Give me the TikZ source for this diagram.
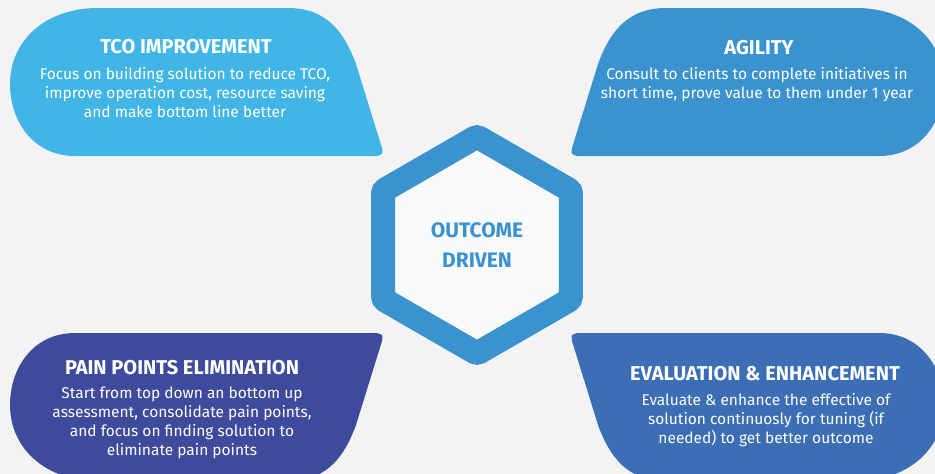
\documentclass[tikz,border=0pt]{standalone}
\usepackage{fontspec}
\setmainfont{Fira Sans}
\usetikzlibrary{shapes.geometric,backgrounds}
\definecolor{pageGrey}{HTML}{F3F3F3}
\definecolor{tcoBlue}{HTML}{41B6E6}
\definecolor{agileBlue}{HTML}{3A93CF}
\definecolor{painIndigo}{HTML}{3E4A9C}
\definecolor{evalBlue}{HTML}{3B6EB5}
\definecolor{hubWhite}{HTML}{F8FAFC}

\tikzset{
  leaf/.pic={
    \fill[pic actions] (-6,0) -- (-308,0)
      .. controls (-350,0) and (-373,-35) .. (-373,-72)
      .. controls (-373,-115) and (-338,-148) .. (-285,-148)
      -- (-95,-148)
      .. controls (-55,-148) and (-38,-122) .. (-27,-92)
      -- (-1,-8) .. controls (0,-2) .. (-6,0) -- cycle;
  },
  headline/.style={text=white, font=\fontsize{20}{22}\selectfont\bfseries},
  blurb/.style={text=white, align=center, font=\fontsize{15.5}{19}\selectfont},
  hexbox/.style={regular polygon, regular polygon sides=6, shape border rotate=30,
    minimum size=217pt, draw=agileBlue, line width=24pt, rounded corners=3pt,
    fill=hubWhite, text=agileBlue, align=center,
    font=\fontsize{21}{30}\selectfont\bfseries},
  spoke/.style={draw=agileBlue, line width=6pt}
}

\begin{document}
\begin{tikzpicture}[x=1pt,y=-1pt]
  \useasboundingbox (0,0) rectangle (935,474);
  \fill[pageGrey] (0,0) rectangle (935,474);
  \clip (0,0) rectangle (935,474);

  % Four leaf panels
  \pic[fill=tcoBlue] at (383,156) {leaf};
  \pic[fill=agileBlue, xscale=-1] at (571,156) {leaf};
  \pic[fill=painIndigo, yscale=-1] at (383,333) {leaf};
  \pic[fill=evalBlue, xscale=-1, yscale=-1] at (571,333) {leaf};

  % Centre hexagon
  \node[hexbox] (hub) at (477,245) {OUTCOME\\DRIVEN};

  % Cross behind the hexagon
  \coordinate (armTop) at (477,38);
  \coordinate (armBottom) at (477,452);
  \coordinate (armLeft) at (228,245);
  \coordinate (armRight) at (725,245);
  \begin{scope}[on background layer]
    \draw[spoke] (armTop) -- (hub.center);
    \draw[spoke] (armBottom) -- (hub.center);
    \draw[spoke] (armLeft) -- (hub.center);
    \draw[spoke] (armRight) -- (hub.center);
  \end{scope}

  % Panel texts
  \node[headline] (tcoTitle) at (186,47) {TCO IMPROVEMENT};
  \node[blurb] (tcoText) at (185,93) {Focus on building solution to reduce TCO,\\
    improve operation cost, resource saving\\and make bottom line better};

  \node[headline] (agileTitle) at (759,48) {AGILITY};
  \node[blurb] (agileText) at (757,85) {Consult to clients to complete initiatives in\\
    short time, prove value to them under 1 year};

  \node[headline] (painTitle) at (182,368) {PAIN POINTS ELIMINATION};
  \node[blurb] (painText) at (182,423) {Start from top down an bottom up\\
    assessment, consolidate pain points,\\and focus on finding solution to\\
    eliminate pain points};

  \node[headline] (evalTitle) at (765,374) {EVALUATION \& ENHANCEMENT};
  \node[blurb] (evalText) at (766,420) {Evaluate \& enhance the effective of\\
    solution continuosly for tuning (if\\needed) to get better outcome};
\end{tikzpicture}
\end{document}
